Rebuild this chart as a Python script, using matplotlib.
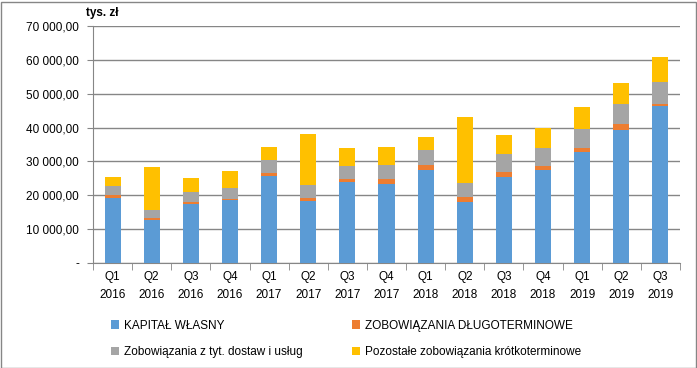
import matplotlib
matplotlib.use("Agg")
import matplotlib.pyplot as plt
from matplotlib.patches import Rectangle
import numpy as np

categories = ["Q1\n2016", "Q2\n2016", "Q3\n2016", "Q4\n2016",
              "Q1\n2017", "Q2\n2017", "Q3\n2017", "Q4\n2017",
              "Q1\n2018", "Q2\n2018", "Q3\n2018", "Q4\n2018",
              "Q1\n2019", "Q2\n2019", "Q3\n2019"]
kapital = [19200, 12740, 17450, 18630, 25690, 18240, 23920, 23320,
           27450, 18040, 25290, 27450, 32740, 39410, 46270]
dlugoterm = [800, 600, 590, 290, 780, 880, 790, 1390,
             1370, 1370, 1570, 1180, 1180, 1570, 790]
dostawy = [2740, 2350, 2940, 3240, 3920, 3820, 3920, 4110,
           4510, 4120, 5300, 5290, 5590, 5880, 6470]
pozostale = [2550, 12550, 4120, 4900, 3730, 15300, 5190, 5300,
             4020, 19710, 5780, 6080, 6670, 6180, 7450]
series_names = ["KAPITAŁ WŁASNY", "ZOBOWIĄZANIA DŁUGOTERMINOWE",
                "Zobowiązania z tyt. dostaw i usług",
                "Pozostałe zobowiązania krótkoterminowe"]
yticks = [0, 10000, 20000, 30000, 40000, 50000, 60000, 70000]
ytick_labels = ["-", "10 000,00", "20 000,00", "30 000,00", "40 000,00",
                "50 000,00", "60 000,00", "70 000,00"]
colors = ["#5B9BD5", "#ED7D31", "#A5A5A5", "#FFC000"]

plt.rcParams['font.family'] = ['Liberation Sans', 'DejaVu Sans']
W, H = 697, 368
fig = plt.figure(figsize=(W / 100, H / 100), dpi=100)
ax = fig.add_axes([93 / W, 1 - 263 / H, (680 - 93) / W, (263 - 26) / H])

x = np.arange(len(categories))
bottom = np.zeros(len(categories))
handles = []
for vals, col, name in zip([kapital, dlugoterm, dostawy, pozostale], colors, series_names):
    b = ax.bar(x, vals, width=0.41, bottom=bottom, color=col, label=name, zorder=3)
    handles.append(b)
    bottom += np.array(vals)

ax.set_xlim(-0.5, len(categories) - 0.5)
ax.set_ylim(0, 70000)
ax.set_yticks(yticks)
ax.set_yticklabels(ytick_labels, fontsize=8.5)
ax.yaxis.grid(True, color="#868686", linewidth=1.0, zorder=0)
ax.tick_params(axis='y', length=4, color="#868686", pad=6)
ax.set_xticks(x)
ax.set_xticklabels(categories, fontsize=8.5, linespacing=1.6)
ax.set_xticks(np.arange(-0.5, len(categories)), minor=True)
ax.tick_params(axis='x', which='major', length=0, pad=6)
ax.tick_params(axis='x', which='minor', length=5, color="#868686")
for s in ["top", "right"]:
    ax.spines[s].set_visible(False)
ax.spines["left"].set_color("#868686")
ax.spines["bottom"].set_color("#868686")

fig.text(86 / W, 1 - 13 / H, "tys. zł", fontsize=8.5, fontweight="bold", va="center", ha="left")

order = [0, 2, 1, 3]
leg = fig.legend(handles=[handles[i] for i in order],
                 labels=[series_names[i] for i in order], loc="upper left",
                 bbox_to_anchor=(100 / W, 1 - 309 / H), ncol=2, frameon=False,
                 fontsize=8.5, handlelength=0.7, handleheight=0.7, handletextpad=0.4,
                 columnspacing=4.2, labelspacing=1.2)

fig.patches.append(Rectangle((0.5 / W, 0.5 / H), 1 - 2 / W, 1 - 2 / H, transform=fig.transFigure,
                             fill=False, edgecolor="#868686", linewidth=1))
fig.savefig("out.png", dpi=100)
